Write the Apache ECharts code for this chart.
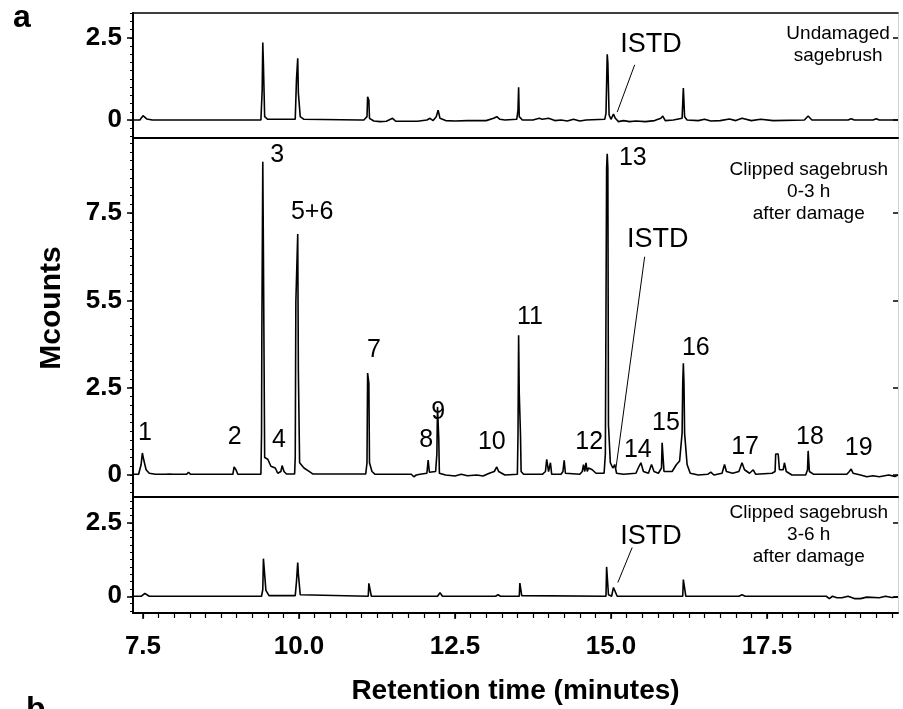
<!DOCTYPE html>
<html lang="en">
<head>
  <meta charset="utf-8">
  <title>Sagebrush volatiles</title>
  <script src="https://cdn.jsdelivr.net/npm/echarts@6.0.0/dist/echarts.min.js"></script>
  <style>
    body { margin: 0; background: white; overflow: hidden; }
    #chart { width: 903px; height: 709px; }
  </style>
</head>
<body>
  <div id="chart"></div>
  <script>
    // --- Data.

    // Retention time axis (minutes).
    const TIME_MIN = 7.34;
    const TIME_MAX = 19.6;
    const TIME_TICKS = [7.5, 10, 12.5, 15, 17.5];
    const TIME_TICK_LABELS = ['7.5', '10.0', '12.5', '15.0', '17.5'];

    // Panel y ranges (Mcounts) and their labelled ticks.
    // The source labels the 5.0 tick of the middle panel as "5.5".
    const TOP_RANGE = [-0.55, 3.26];
    const TOP_TICKS = [0, 2.5];
    const TOP_TICK_LABELS = ['0', '2.5'];
    const MID_RANGE = [-0.63, 9.65];
    const MID_TICKS = [0, 2.5, 5, 7.5];
    const MID_TICK_LABELS = ['0', '2.5', '5.5', '7.5'];
    const BOT_RANGE = [-0.57, 3.38];
    const BOT_TICKS = [0, 2.5];
    const BOT_TICK_LABELS = ['0', '2.5'];

    // Undamaged sagebrush trace, [time, Mcounts].
    const TOP_TRACE = [
      [7.34, 0], [7.45, 0], [7.5, 0.13], [7.56, 0.03], [7.65, 0], [9.39, 0], [9.41, 0.9], [9.42, 2.36],
      [9.43, 1.7], [9.44, 1.7], [9.45, 0.1], [9.5, 0.02], [9.94, 0.02], [9.96, 1.24], [9.98, 1.88],
      [9.99, 0.83], [10.0, 0.83], [10.02, 0.1], [10.08, 0.02], [10.98, 0], [11.0, -0.05], [11.04, 0],
      [11.09, 0.1], [11.1, 0.71], [11.12, 0.6], [11.13, 0.05], [11.2, -0.03], [11.3, -0.05], [11.4, -0.04],
      [11.5, 0.05], [11.55, -0.04], [11.9, -0.04], [12.05, 0], [12.1, 0.05], [12.15, -0.02], [12.2, 0.1],
      [12.23, 0.3], [12.26, 0.05], [12.35, -0.02], [12.5, -0.03], [12.7, -0.02], [13.0, -0.02], [13.12, 0.05],
      [13.17, 0.1], [13.22, 0.02], [13.3, 0], [13.49, 0.02], [13.51, 0.3], [13.52, 1.0], [13.53, 0.1],
      [13.58, 0], [13.75, 0], [13.85, 0.05], [13.9, 0.02], [14.0, 0.05], [14.1, -0.02], [14.2, 0],
      [14.3, -0.03], [14.4, 0.02], [14.5, -0.03], [14.6, 0], [14.9, 0.02], [14.92, 0.2], [14.94, 2.0],
      [14.95, 1.74], [14.97, 0.15], [15.0, 0.02], [15.04, 0.18], [15.07, 0.05], [15.12, -0.05], [15.2, -0.02],
      [15.3, -0.05], [15.4, -0.03], [15.55, -0.05], [15.7, -0.02], [15.8, 0.05], [15.83, 0.12], [15.87, -0.02],
      [16.0, 0], [16.14, 0.05], [16.16, 0.97], [16.18, 0.1], [16.22, 0], [16.4, -0.02], [16.5, 0.02],
      [16.6, -0.03], [16.75, -0.02], [16.9, 0.03], [17.0, -0.02], [17.1, 0.05], [17.25, -0.02], [17.4, 0.02],
      [17.6, -0.02], [18.1, 0], [18.16, 0.12], [18.22, 0], [18.8, 0], [18.85, 0.04], [18.9, 0],
      [19.2, 0], [19.25, 0.04], [19.3, 0], [19.6, 0]
    ];

    // Clipped sagebrush, 0-3 h after damage.
    const MID_TRACE = [
      [7.34, 0.02], [7.43, 0.02], [7.47, 0.3], [7.49, 0.63], [7.51, 0.45], [7.55, 0.15], [7.6, 0.05],
      [7.7, 0.02], [7.86, 0.02], [7.89, 0.07], [7.92, 0.03], [7.95, 0.06], [7.98, 0.02], [8.2, 0.02],
      [8.23, 0.08], [8.26, 0.02], [8.94, 0.02], [8.96, 0.23], [8.99, 0.15], [9.02, 0.02], [9.39, 0.02],
      [9.4, 1.2], [9.405, 4.07], [9.415, 4.07], [9.42, 8.97], [9.43, 6.4], [9.44, 6.4], [9.45, 0.5],
      [9.5, 0.45], [9.55, 0.25], [9.62, 0.2], [9.66, 0.05], [9.71, 0.1], [9.73, 0.27], [9.76, 0.1],
      [9.8, 0.03], [9.93, 0.03], [9.94, 0.5], [9.95, 4.96], [9.97, 4.96], [9.98, 6.9], [9.99, 3.0],
      [10.0, 3.0], [10.01, 0.35], [10.08, 0.2], [10.15, 0.12], [10.22, 0.03], [11.07, 0.03], [11.09, 0.35],
      [11.1, 2.92], [11.12, 2.63], [11.13, 0.35], [11.17, 0.1], [11.22, 0.02], [11.8, 0.02], [11.84, -0.05],
      [11.88, 0], [11.91, -0.03], [11.94, 0.02], [12.05, 0.05], [12.07, 0.43], [12.09, 0.08], [12.19, 0.1],
      [12.21, 0.6], [12.22, 1.95], [12.24, 1.06], [12.25, 0.05], [12.35, 0], [12.5, -0.03], [12.6, 0.02],
      [12.7, -0.02], [12.85, 0], [12.95, -0.03], [13.05, 0.05], [13.13, 0.1], [13.17, 0.23], [13.2, 0.1],
      [13.25, 0.05], [13.3, 0], [13.5, 0.02], [13.51, 1.15], [13.52, 4.0], [13.53, 2.35], [13.55, 1.15],
      [13.56, 0.1], [13.6, 0.02], [13.9, 0.02], [13.95, 0.1], [13.97, 0.45], [14.0, 0.1], [14.03, 0.35],
      [14.05, 0.02], [14.2, 0.02], [14.23, 0.1], [14.25, 0.42], [14.27, 0.05], [14.5, 0.02], [14.54, 0.1],
      [14.56, 0.3], [14.58, 0.1], [14.6, 0.35], [14.62, 0.1], [14.64, 0.2], [14.7, 0.15], [14.76, 0.05],
      [14.89, 0.05], [14.91, 0.6], [14.93, 8.8], [14.94, 9.2], [14.95, 8.8], [14.96, 1.43], [14.98, 1.43],
      [14.99, 0.35], [15.03, 0.2], [15.06, 0.3], [15.09, 0.05], [15.2, 0.02], [15.4, 0.05], [15.45, 0.25],
      [15.48, 0.35], [15.52, 0.1], [15.6, 0.05], [15.65, 0.3], [15.69, 0.1], [15.76, 0.05], [15.81, 0.2],
      [15.82, 0.92], [15.84, 0.92], [15.85, 0.1], [15.98, 0.1], [16.05, 0.3], [16.1, 0.4], [16.14, 1.2],
      [16.15, 2.63], [16.16, 3.2], [16.17, 2.63], [16.18, 1.2], [16.21, 1.2], [16.22, 0.3], [16.27, 0.05],
      [16.4, 0], [16.55, 0.02], [16.6, 0.08], [16.65, 0], [16.78, 0.05], [16.82, 0.3], [16.85, 0.1],
      [16.95, 0.05], [17.05, 0.1], [17.1, 0.35], [17.14, 0.15], [17.22, 0.05], [17.28, 0.15], [17.32, 0.02],
      [17.58, 0.05], [17.63, 0.1], [17.64, 0.6], [17.68, 0.6], [17.7, 0.15], [17.76, 0.15], [17.78, 0.35],
      [17.81, 0.1], [17.9, 0], [18.12, 0], [18.15, 0.15], [18.16, 0.69], [18.18, 0.1], [18.25, 0.02],
      [18.78, 0.02], [18.82, 0.1], [18.85, 0.17], [18.88, 0.05], [19.0, 0], [19.1, -0.05], [19.2, -0.02],
      [19.3, -0.05], [19.45, 0], [19.55, -0.04], [19.6, 0]
    ];

    // Clipped sagebrush, 3-6 h after damage.
    const BOT_TRACE = [
      [7.34, 0], [7.47, 0], [7.53, 0.1], [7.6, 0], [9.4, 0], [9.42, 0.23], [9.43, 1.28], [9.46, 1.25],
      [9.47, 0.2], [9.52, 0.02], [9.94, 0.02], [9.96, 0.5], [9.98, 1.15], [9.99, 0.77], [10.01, 0.77],
      [10.02, 0.05], [11.11, 0], [11.12, 0.44], [11.15, 0.44], [11.16, 0], [12.22, 0], [12.26, 0.12],
      [12.3, 0], [13.15, 0], [13.19, 0.05], [13.23, 0], [13.53, 0], [13.54, 0.45], [13.56, 0.5],
      [13.57, 0.02], [14.92, 0], [14.93, 1.0], [14.95, 1.0], [14.96, 0.05], [15.01, 0], [15.04, 0.3],
      [15.07, 0.34], [15.1, 0], [15.8, 0], [15.83, 0.05], [15.86, 0], [16.15, 0], [16.16, 0.57],
      [16.19, 0.55], [16.2, 0], [17.05, 0], [17.1, 0.05], [17.15, 0], [18.45, 0], [18.5, -0.08],
      [18.55, 0], [18.62, -0.05], [18.7, -0.05], [18.8, 0], [18.9, -0.08], [19.0, -0.08], [19.1, -0.03],
      [19.3, -0.05], [19.4, 0], [19.5, -0.04], [19.6, -0.02]
    ];

    // Compound numbers in the middle panel: [label, time, Mcounts].
    const PEAK_LABELS = [
      ['1', 7.53, 1.2], ['2', 8.97, 1.09], ['3', 9.65, 9.17], ['4', 9.68, 1.0], ['5+6', 10.21, 7.54],
      ['7', 11.2, 3.58], ['8', 12.04, 1.0], ['9', 12.23, 1.8], ['10', 13.09, 0.95], ['11', 13.7, 4.53],
      ['12', 14.65, 0.95], ['13', 15.35, 9.08], ['14', 15.43, 0.72], ['15', 15.88, 1.49],
      ['16', 16.36, 3.64], ['17', 17.15, 0.8], ['18', 18.19, 1.09], ['19', 18.97, 0.77]
    ];

    // Internal standard: label position and leader line, per panel (top, middle, bottom).
    const ISTD_TEXT = [[15.64, 2.29], [15.75, 6.73], [15.64, 2.03]];
    const ISTD_LINES = [
      [[15.38, 1.68], [15.1, 0.24]],
      [[15.54, 6.25], [15.08, 0.2]],
      [[15.34, 1.66], [15.11, 0.47]]
    ];

    // Panel captions: [text, time, Mcounts] of the block centre.
    const PANEL_TITLES = [
      ['Undamaged\nsagebrush', 18.64, 2.29],
      ['Clipped sagebrush\n0-3 h\nafter damage', 18.17, 8.11],
      ['Clipped sagebrush\n3-6 h\nafter damage', 18.17, 2.09]
    ];


    // --- Helpers.

    const FONT = '"Liberation Sans", Arial, sans-serif';
    const INK = '#000';

    // Multiples of step that fall inside [min, max], for the small ticks.
    function minorValues(min, max, step) {
      const out = [];
      for (let v = Math.ceil(min / step) * step; v <= max + 1e-9; v += step) {
        out.push(+v.toFixed(4));
      }
      return out;
    }

    function xAxisFor(grid, extra) {
      return Object.assign({
        type: 'value', gridIndex: grid, min: TIME_MIN, max: TIME_MAX, position: 'bottom',
        splitLine: { show: false },
        axisLine: { show: true, onZero: false, lineStyle: { color: INK, width: 2 } },
        axisTick: { show: false },
        axisLabel: { show: false }
      }, extra);
    }

    // Three y axes per panel: labelled left, small ticks left, faint right edge.
    function yAxesFor(grid, range, ticks, labels) {
      const base = { type: 'value', gridIndex: grid, min: range[0], max: range[1], splitLine: { show: false } };
      return [
        Object.assign({}, base, {
          position: 'left',
          axisLine: { show: true, onZero: false, lineStyle: { color: INK, width: 2 } },
          axisTick: { show: true, customValues: ticks, length: 6, lineStyle: { color: INK, width: 1.5 } },
          axisLabel: {
            show: true, customValues: ticks, margin: 11,
            formatter: v => labels[ticks.indexOf(v)],
            fontFamily: FONT, fontWeight: 'bold', fontSize: 26, color: INK
          }
        }),
        Object.assign({}, base, {
          position: 'left',
          axisLine: { show: false, onZero: false },
          axisTick: { show: true, customValues: minorValues(range[0], range[1], 0.25), length: 3,
                      lineStyle: { color: INK, width: 1 } },
          axisLabel: { show: false }
        }),
        Object.assign({}, base, {
          position: 'right',
          axisLine: { show: true, onZero: false, lineStyle: { color: '#c8c8c8', width: 1, type: 'dotted' } },
          axisTick: { show: true, inside: true, customValues: ticks, length: 5, lineStyle: { color: INK, width: 1.5 } },
          axisLabel: { show: false }
        })
      ];
    }

    function trace(xi, yi, data) {
      return {
        type: 'line', xAxisIndex: xi, yAxisIndex: yi, data: data,
        showSymbol: false, symbol: 'none', silent: true, animation: false,
        lineStyle: { color: INK, width: 1.6 }
      };
    }

    function textMarks(xi, yi, data, size, lineHeight) {
      return {
        type: 'scatter', xAxisIndex: xi, yAxisIndex: yi, silent: true, animation: false,
        symbolSize: 0, itemStyle: { color: INK },
        data: data.map(d => ({ value: [d[1], d[2]], name: d[0] })),
        label: {
          show: true, position: 'inside', formatter: p => p.name, opacity: 1,
          fontFamily: FONT, fontSize: size, color: INK, lineHeight: lineHeight || size, align: 'center'
        }
      };
    }

    // --- Chart.

    const chart = echarts.init(document.getElementById('chart'), null, { renderer: 'canvas' });

    // Axis indices: x 0..2 per panel (+3 top border, +4 small ticks), y 0..8 in threes.
    const xAxes = [
      xAxisFor(0),
      xAxisFor(1),
      xAxisFor(2, {
        axisTick: { show: true, customValues: TIME_TICKS, length: 6, lineStyle: { color: INK, width: 1.5 } },
        axisLabel: {
          show: true, customValues: TIME_TICKS, margin: 21,
          formatter: v => TIME_TICK_LABELS[TIME_TICKS.indexOf(v)],
          fontFamily: FONT, fontWeight: 'bold', fontSize: 26, color: INK
        },
        name: 'Retention time (minutes)', nameLocation: 'middle', nameGap: 64,
        nameTextStyle: { fontFamily: FONT, fontWeight: 'bold', fontSize: 28, color: INK }
      }),
      xAxisFor(0, { position: 'top', axisLine: { show: true, onZero: false, lineStyle: { color: INK, width: 1.5 } } }),
      xAxisFor(2, {
        axisLine: { show: false, onZero: false },
        axisTick: { show: true, customValues: minorValues(TIME_MIN, TIME_MAX, 0.25), length: 5,
                    lineStyle: { color: INK, width: 1.2 } }
      })
    ];

    const yAxes = [].concat(
      yAxesFor(0, TOP_RANGE, TOP_TICKS, TOP_TICK_LABELS),
      yAxesFor(1, MID_RANGE, MID_TICKS, MID_TICK_LABELS),
      yAxesFor(2, BOT_RANGE, BOT_TICKS, BOT_TICK_LABELS)
    );

    const series = [
      trace(0, 0, TOP_TRACE),
      trace(1, 3, MID_TRACE),
      trace(2, 6, BOT_TRACE),
      textMarks(1, 3, PEAK_LABELS, 25)
    ];
    [0, 1, 2].forEach(i => {
      series.push({
        type: 'line', xAxisIndex: i, yAxisIndex: i * 3, data: ISTD_LINES[i],
        showSymbol: false, symbol: 'none', silent: true, animation: false,
        lineStyle: { color: INK, width: 1 }
      });
      series.push(textMarks(i, i * 3, [['ISTD', ISTD_TEXT[i][0], ISTD_TEXT[i][1]]], 27));
      series.push(textMarks(i, i * 3, [PANEL_TITLES[i]], 19, 22));
    });

    chart.setOption({
      backgroundColor: '#fff',
      animation: false,
      grid: [
        { left: 133, right: 5, top: 13, height: 125, outerBoundsMode: 'none' },
        { left: 133, right: 5, top: 138, height: 359, outerBoundsMode: 'none' },
        { left: 133, right: 5, top: 497, height: 116, outerBoundsMode: 'none' }
      ],
      xAxis: xAxes,
      yAxis: yAxes,
      series: series,
      graphic: [
        { type: 'text', left: 13, top: 2, style: { text: 'a', font: 'bold 32px ' + FONT, fill: INK } },
        { type: 'text', left: 26, top: 694, style: { text: 'b', font: 'bold 32px ' + FONT, fill: INK } },
        {
          type: 'text', x: 52, y: 308, rotation: Math.PI / 2,
          style: { text: 'Mcounts', font: 'bold 30px ' + FONT, fill: INK, textAlign: 'center', textVerticalAlign: 'middle' }
        }
      ]
    });
  </script>
</body>
</html>
